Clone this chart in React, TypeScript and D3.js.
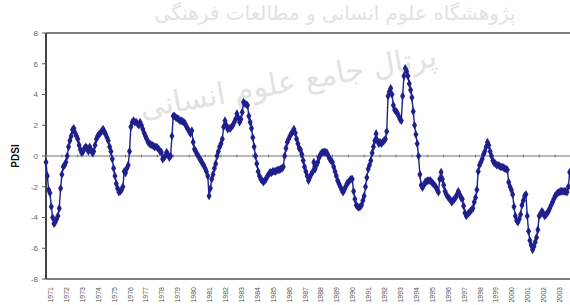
import React from "react";
import * as d3 from "d3";

const years: number[] = d3.range(1971, 2004);

const pdsi1971_1980: number[][] = [
  [-0.4, -1.3, -2.2, -2.4, -3.3, -4.0, -4.4, -4.3, -4.1, -3.9, -3.4, -2.1],
  [-1.2, -0.7, -0.6, -0.4, 0.0, 0.6, 1.0, 1.3, 1.7, 1.8, 1.5, 1.3],
  [1.1, 0.7, 0.4, 0.2, 0.3, 0.5, 0.6, 0.5, 0.3, 0.6, 0.4, 0.2],
  [0.3, 0.7, 1.1, 1.3, 1.4, 1.5, 1.6, 1.75, 1.6, 1.4, 1.2, 1.0],
  [0.6, 0.3, -0.2, -0.8, -1.3, -1.8, -2.1, -2.35, -2.3, -2.2, -2.0, -1.0],
  [-1.1, -0.8, -0.6, 0.3, 1.9, 2.2, 2.3, 2.2, 2.2, 2.1, 2.0, 2.2],
  [2.0, 1.75, 1.5, 1.3, 1.1, 0.9, 0.8, 0.75, 0.7, 0.65, 0.6, 0.6],
  [0.55, 0.45, 0.3, 0.25, -0.2, -0.1, 0.0, 0.25, 0.1, -0.1, 0.0, 1.3],
  [2.6, 2.6, 2.5, 2.45, 2.4, 2.3, 2.3, 2.25, 2.2, 2.1, 1.9, 1.75],
  [1.6, 1.45, 1.65, 0.9, 0.45, 0.3, 0.1, 0.0, -0.2, -0.3, -0.5, -0.6],
];
const pdsi1981_1990: number[][] = [
  [-0.8, -1.0, -1.3, -2.6, -2.1, -1.5, -1.2, -0.8, -0.5, 0.0, 0.3, 0.6],
  [0.8, 1.1, 1.9, 2.3, 2.0, 1.75, 1.8, 1.8, 1.9, 2.0, 2.2, 2.4],
  [2.75, 2.5, 2.2, 2.4, 2.85, 3.5, 3.4, 3.35, 3.3, 2.6, 2.2, 1.8],
  [1.2, 0.6, 0.0, -0.5, -1.0, -1.3, -1.5, -1.6, -1.7, -1.6, -1.5, -1.3],
  [-1.2, -1.05, -1.1, -1.0, -1.0, -1.0, -0.95, -0.9, -0.9, -0.85, -0.8, -0.7],
  [0.0, 0.5, 0.9, 1.1, 1.3, 1.45, 1.55, 1.75, 1.5, 1.1, 0.8, 0.5],
  [0.4, 0.1, -0.3, -0.7, -1.0, -1.3, -1.6, -1.4, -1.2, -1.05, -0.4, -0.85],
  [-0.6, -0.4, -0.1, 0.1, 0.2, 0.25, 0.25, 0.25, 0.2, 0.0, -0.2, -0.3],
  [-0.4, -0.7, -1.0, -1.3, -1.6, -1.8, -2.0, -2.2, -2.35, -2.2, -2.0, -1.8],
  [-1.7, -1.6, -1.5, -1.5, -2.3, -2.8, -3.2, -3.3, -3.35, -3.3, -3.2, -2.9],
];
const pdsi1991_2003: number[][] = [
  [-2.6, -2.0, -1.4, -0.85, -0.6, -0.3, 0.2, 0.6, 1.0, 1.45, 1.0, 0.8],
  [0.9, 0.8, 0.9, 1.0, 1.1, 1.6, 3.9, 4.2, 4.4, 4.0, 3.3, 3.0],
  [2.9, 2.8, 2.6, 2.4, 2.3, 3.9, 5.2, 5.7, 5.5, 5.2, 4.7, 4.3],
  [3.8, 2.9, 2.0, 1.4, 0.8, 0.0, -1.2, -1.9, -2.05, -1.9, -1.7, -1.65],
  [-1.6, -1.6, -1.6, -1.7, -1.8, -1.9, -2.0, -2.2, -2.35, -1.5, -1.05, -1.5],
  [-1.9, -2.3, -2.5, -2.65, -2.75, -2.85, -3.0, -2.9, -2.8, -2.7, -2.5, -2.3],
  [-2.5, -2.7, -2.8, -3.25, -3.7, -3.9, -3.8, -3.7, -3.6, -3.5, -3.4, -3.0],
  [-2.7, -2.2, -1.0, -0.6, -0.4, -0.2, 0.1, 0.3, 0.6, 0.9, 0.7, 0.3],
  [0.0, -0.3, -0.45, -0.5, -0.6, -0.6, -0.65, -0.7, -0.7, -0.75, -0.8, -0.85],
  [-0.9, -1.7, -2.0, -2.2, -2.5, -3.3, -3.9, -4.2, -4.3, -4.1, -3.8, -3.2],
  [-2.9, -2.6, -2.5, -3.9, -4.9, -5.5, -5.8, -6.1, -5.9, -5.6, -5.3, -4.8],
  [-3.9, -3.8, -3.6, -3.7, -3.9, -3.85, -3.7, -3.6, -3.4, -3.2, -3.0, -2.8],
  [-2.6, -2.5, -2.4, -2.35, -2.3, -2.3, -2.3, -2.3, -2.3, -2.35, -2.0, -1.05],
];
const yTicks: number[] = [-8, -6, -4, -2, 0, 2, 4, 6, 8];
const watermarkTop = "پژوهشگاه علوم انسانی و مطالعات فرهنگی";
const watermarkMid = "پرتال جامع علوم انسانی";

const monthly: number[] = [...pdsi1971_1980, ...pdsi1981_1990, ...pdsi1991_2003].flat();

const W = 570;
const H = 305;
const left = 46;
const right = 571;
const top = 33;
const bottom = 279;
const navy = "#1f1f8e";

export default function App() {
  const x = d3.scaleLinear().domain([0, years.length * 12]).range([left, right]);
  const y = d3.scaleLinear().domain([-8, 8]).range([bottom, top]);
  const line = d3
    .line<number>()
    .x((_, i) => x(i))
    .y((d) => y(d));
  const diamond = d3.symbol().type(d3.symbolDiamond).size(22)() as string;

  return (
    <svg
      width={W}
      height={H}
      style={{ position: "absolute", left: 0, top: 0, background: "#fff" }}
      fontFamily="Arial, 'Liberation Sans', sans-serif"
    >
      {/* watermark */}
      <g fill="#e2e2e2" fontFamily="'DejaVu Sans', sans-serif">
        <text x={335} y={20} fontSize={20} textAnchor="middle">
          {watermarkTop}
        </text>
        <text
          x={290}
          y={92}
          fontSize={30}
          textAnchor="middle"
          transform="rotate(-10 290 92)"
        >
          {watermarkMid}
        </text>
      </g>

      {/* frame */}
      <line x1={left} x2={W} y1={top} y2={top} stroke="#555" strokeWidth={1.5} />
      <line x1={left} x2={W} y1={bottom} y2={bottom} stroke="#555" strokeWidth={1.5} />
      <line x1={left} x2={left} y1={top} y2={bottom} stroke="#444" strokeWidth={2} />

      {/* zero line with year ticks */}
      <line x1={left} x2={W} y1={y(0)} y2={y(0)} stroke="#777" strokeWidth={1.2} />
      {years.map((yr, i) => (
        <line
          key={"zt" + yr}
          x1={x(i * 12)}
          x2={x(i * 12)}
          y1={y(0) - 1.5}
          y2={y(0) + 1.5}
          stroke="#777"
          strokeWidth={1}
        />
      ))}

      {/* y ticks */}
      {yTicks.map((t) => (
        <g key={"yt" + t}>
          <line x1={left - 4} x2={left} y1={y(t)} y2={y(t)} stroke="#555" strokeWidth={1} />
          <text
            x={left - 8}
            y={y(t)}
            dy="0.35em"
            fontSize={8}
            fill="#666"
            textAnchor="end"
          >
            {t}
          </text>
        </g>
      ))}

      {/* x labels */}
      {years.map((yr, i) => (
        <text
          key={"xl" + yr}
          transform={`translate(${x(i * 12) + 7},287) rotate(-90)`}
          fontSize={7}
          fill="#555"
          textAnchor="end"
        >
          {yr}
        </text>
      ))}

      {/* y title */}
      <text
        transform={`translate(19,${y(0)}) rotate(-90)`}
        fontSize={10}
        fontWeight="bold"
        fill="#111"
        textAnchor="middle"
      >
        PDSI
      </text>

      {/* series */}
      <path d={line(monthly) as string} fill="none" stroke={navy} strokeWidth={1.4} />
      {monthly.map((v, i) => (
        <path key={"m" + i} d={diamond} transform={`translate(${x(i)},${y(v)})`} fill={navy} />
      ))}
    </svg>
  );
}
